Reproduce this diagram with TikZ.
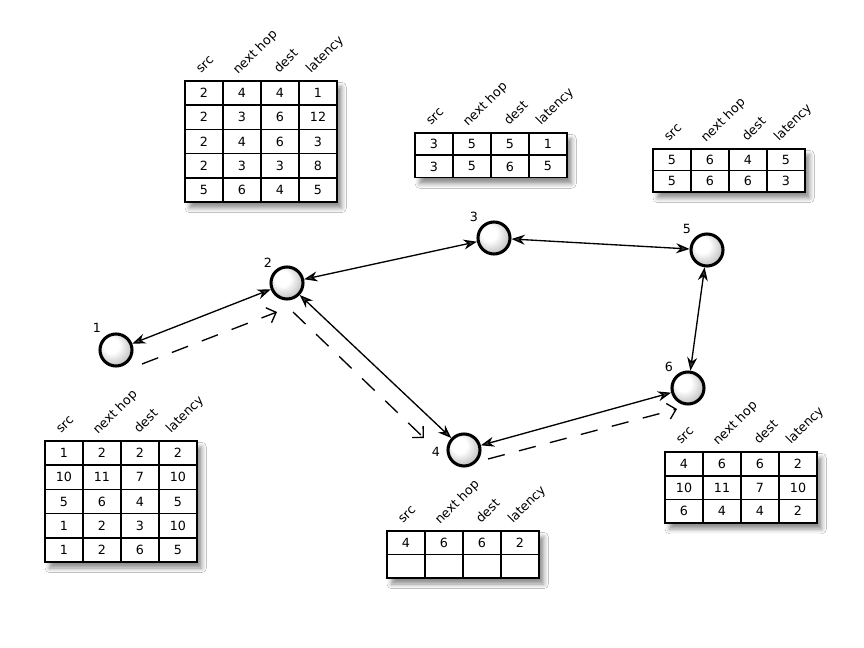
\documentclass[tikz,border=0pt]{standalone}
\usepackage{fontspec}
\setmainfont{DejaVu Sans}
\usetikzlibrary{arrows.meta,shadows.blur}
\pgfdeclareradialshading{routerball}{\pgfpoint{-9bp}{9bp}}{color(0bp)=(white); color(12bp)=(white); color(40bp)=(black!38); color(60bp)=(black!45)}
\tikzset{
 router/.style={circle, draw=black, line width=2.3pt, minimum size=24pt, inner sep=0pt, shading=routerball},
 rlabel/.style={font=\fontsize{9.5}{11}\selectfont, inner sep=0pt},
 link/.style={{Stealth[length=10pt,width=7.5pt]}-{Stealth[length=10pt,width=7.5pt]}, line width=1pt},
 route/.style={-{Straight Barb[length=6pt,width=12pt,line width=1pt]}, line width=1pt, dash pattern=on 13pt off 11pt},
 cell/.style={font=\fontsize{9.5}{11}\selectfont, inner sep=0pt},
 hdr/.style={font=\fontsize{9.5}{11}\selectfont, inner sep=0pt, rotate=45, anchor=base west},
 tline/.style={line width=1.3pt},
 tshadow/.style={blur shadow={shadow xshift=3.5pt, shadow yshift=-4.5pt, shadow blur radius=3.5pt, shadow opacity=45}},
}
% #1 name, #2 left, #3 top, #4 row height, #5 number of rows, #6 rows
\newcommand\rtable[6]{%
 \path[fill=white,tshadow] (#2,#3) rectangle ++(152,{#4*#5});
 \pgfmathtruncatemacro\rtlast{#5-1}
 \foreach \j in {1,...,\rtlast} \draw[tline] (#2,{#3+#4*\j}) -- ++(152,0);
 \foreach \i in {1,2,3} \draw[tline] ({#2+38*\i},#3) -- ++(0,{#4*#5});
 \draw[tline] (#2,#3) rectangle ++(152,{#4*#5});
 \node[hdr] (#1-h1) at ({#2+16},{#3-7}) {src};
 \node[hdr] (#1-h2) at ({#2+53},{#3-6}) {next hop};
 \node[hdr] (#1-h3) at ({#2+94},{#3-7}) {dest};
 \node[hdr] (#1-h4) at ({#2+126},{#3-7}) {latency};
 \foreach \sa/\sb/\sc/\sd [count=\r] in {#6} {
   \node[cell] (#1-\r-1) at ({#2+19},{#3+#4*(\r-0.5)}) {\sa};
   \node[cell] (#1-\r-2) at ({#2+57},{#3+#4*(\r-0.5)}) {\sb};
   \node[cell] (#1-\r-3) at ({#2+95},{#3+#4*(\r-0.5)}) {\sc};
   \node[cell] (#1-\r-4) at ({#2+133},{#3+#4*(\r-0.5)}) {\sd};
 }
}
\begin{document}
\begin{tikzpicture}[x=0.75pt,y=-0.75pt]
\useasboundingbox (0,0) rectangle (864,648);
\fill[white] (0,0) rectangle (864,648);

% tables
\rtable{t2}{185}{81}{24.2}{5}{2/4/4/1, 2/3/6/12, 2/4/6/3, 2/3/3/8, 5/6/4/5}
\rtable{t3}{415}{133}{22.3}{2}{3/5/5/1, 3/5/6/5}
\rtable{t5}{653}{149}{21.5}{2}{5/6/4/5, 5/6/6/3}
\rtable{t1}{45}{441}{24.2}{5}{1/2/2/2, 10/11/7/10, 5/6/4/5, 1/2/3/10, 1/2/6/5}
\rtable{t4}{387}{531}{23.5}{2}{4/6/6/2, {}/{}/{}/{}}
\rtable{t6}{665}{452}{23.7}{3}{4/6/6/2, 10/11/7/10, 6/4/4/2}

% routers
\node[router] (n1) at (116,350) {};
\node[router] (n2) at (287,283) {};
\node[router] (n3) at (494,238) {};
\node[router] (n4) at (464,450) {};
\node[router] (n5) at (707,250) {};
\node[router] (n6) at (688,388) {};
\node[rlabel] (l1) at (97,328) {1};
\node[rlabel] (l2) at (268,263) {2};
\node[rlabel] (l3) at (474,217) {3};
\node[rlabel] (l4) at (436,452) {4};
\node[rlabel] (l5) at (687,229) {5};
\node[rlabel] (l6) at (669,367) {6};

% links
\draw[link] (n1) -- (n2);
\draw[link] (n2) -- (n3);
\draw[link] (n3) -- (n5);
\draw[link] (n5) -- (n6);
\draw[link] (n6) -- (n4);
\draw[link] (n2) -- (n4);

% route
\coordinate (r12a) at (142,364); \coordinate (r12b) at (277,312);
\coordinate (r24a) at (293,312); \coordinate (r24b) at (424,438);
\coordinate (r46a) at (488,459); \coordinate (r46b) at (677,409);
\draw[route] (r12a) -- (r12b);
\draw[route] (r24a) -- (r24b);
\draw[route] (r46a) -- (r46b);
\end{tikzpicture}
\end{document}
